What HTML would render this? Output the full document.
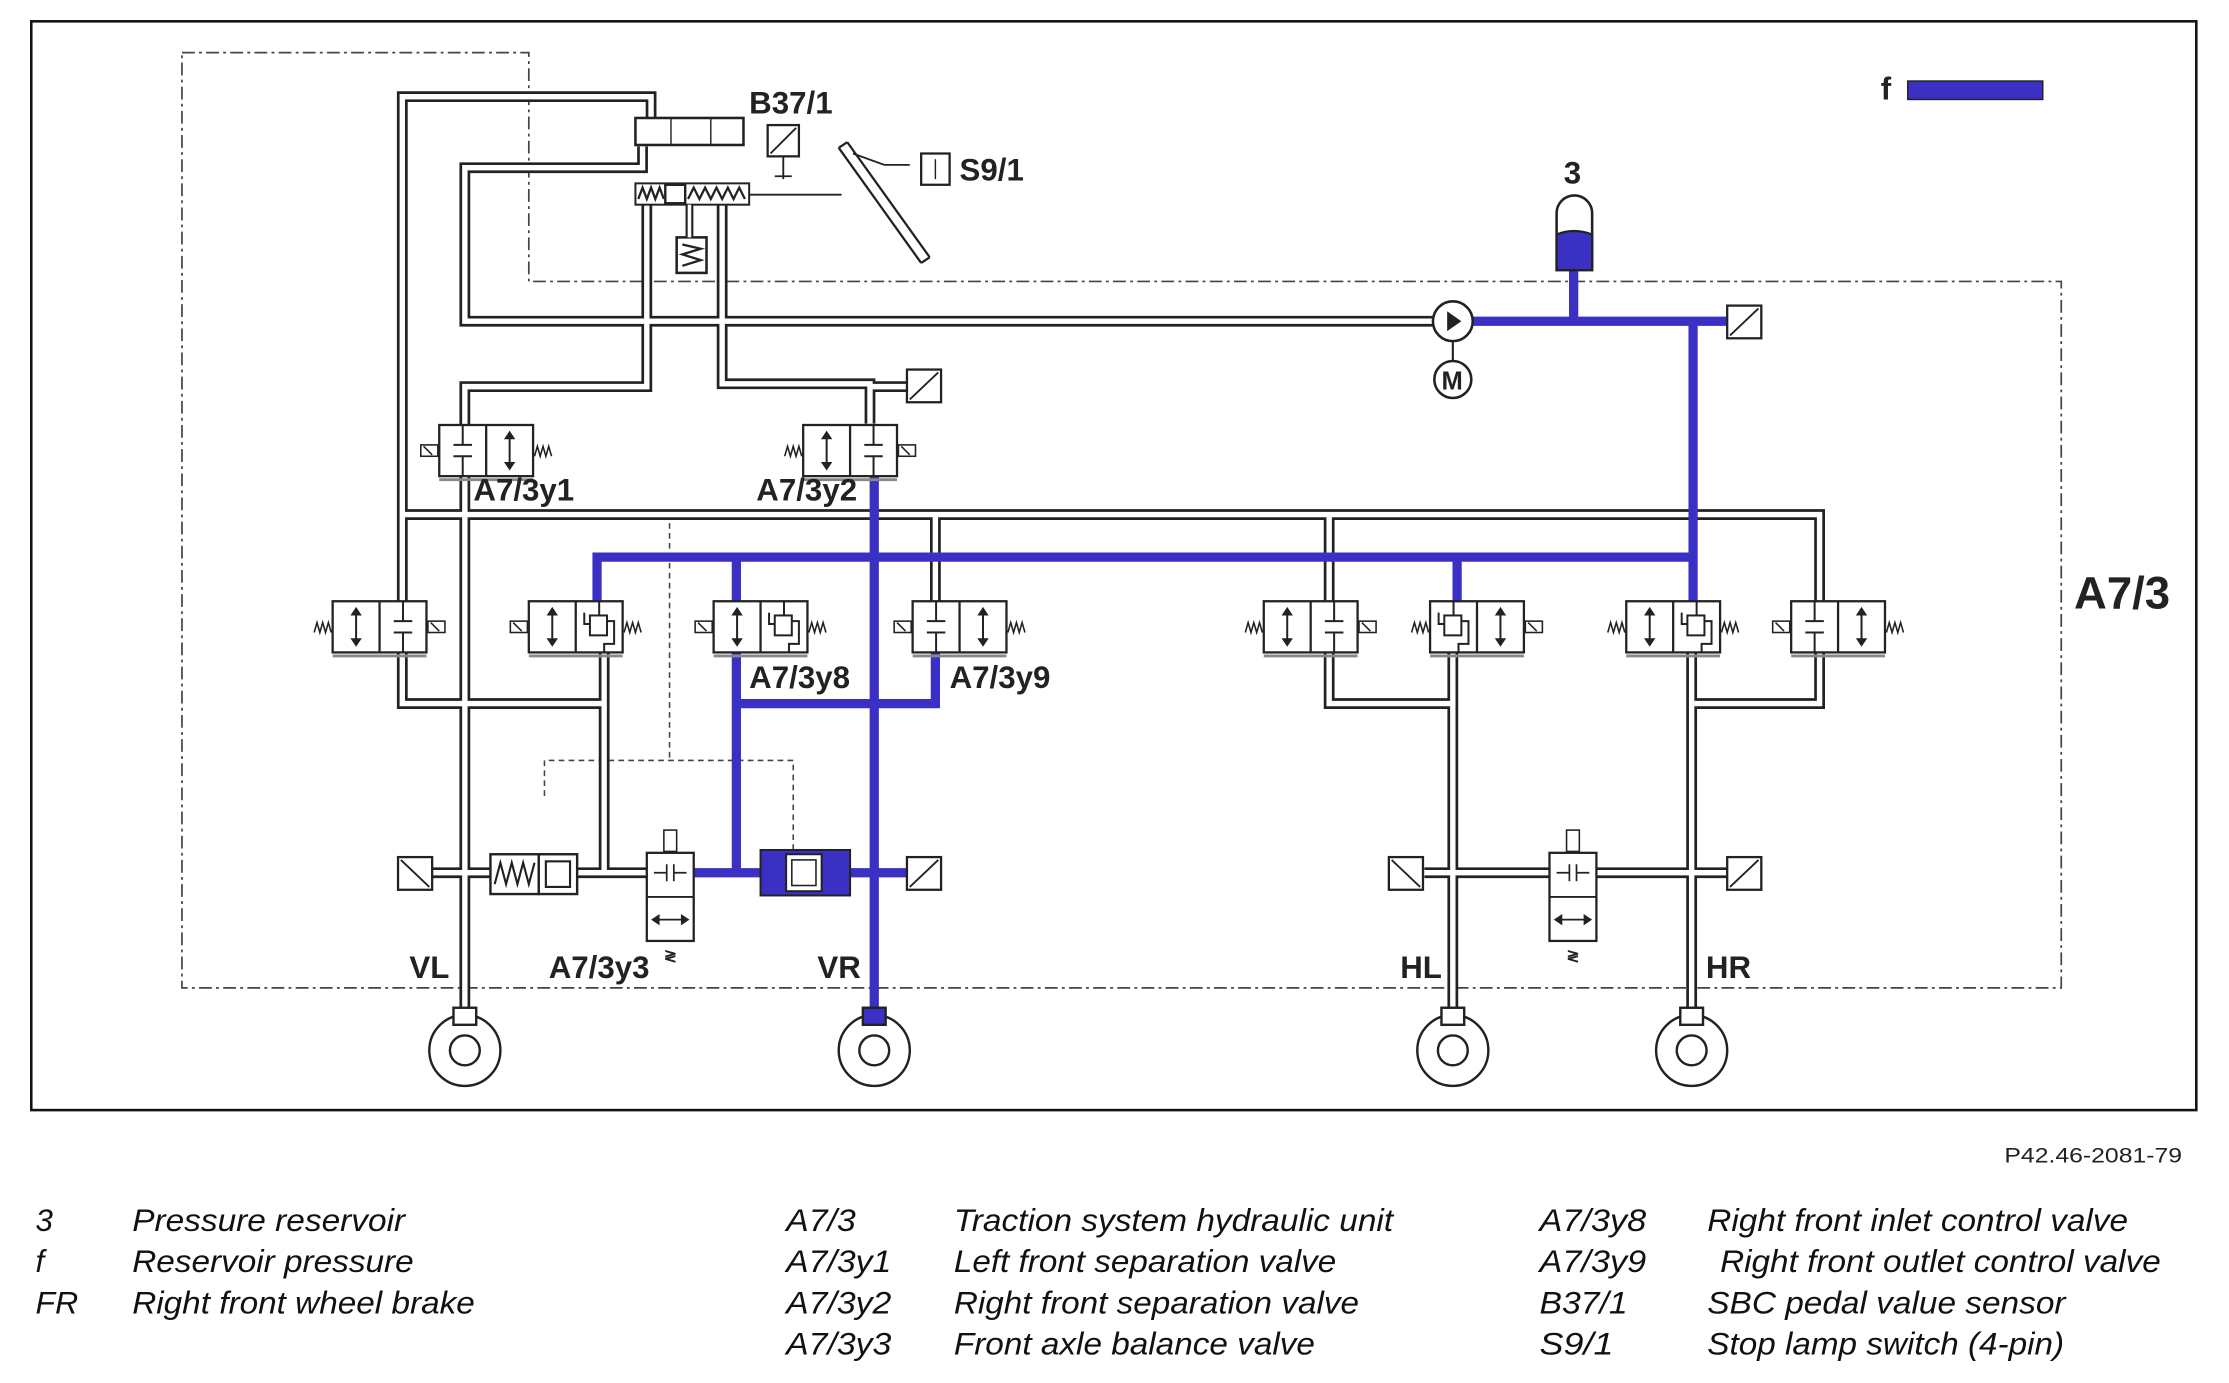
<!DOCTYPE html>
<html><head><meta charset="utf-8"><style>
html,body{margin:0;padding:0;background:#fff;}
svg{display:block;}
text{font-family:"Liberation Sans",Arial,sans-serif;}
.lb{font-weight:bold;font-size:22px;fill:#222;}
.lg{font-style:italic;font-size:22px;fill:#111;}
</style></head><body>
<svg width="2229" height="1383" viewBox="0 0 1568 973" preserveAspectRatio="none" xmlns="http://www.w3.org/2000/svg">
<defs>
<g id="arrow" fill="#222" stroke="#222" stroke-width="1.4">
<line x1="16.5" y1="7" x2="16.5" y2="29"/>
<polygon points="12.5,10 20.5,10 16.5,4" stroke="none"/>
<polygon points="12.5,26 20.5,26 16.5,32" stroke="none"/>
</g>
<g id="closed" fill="none" stroke="#222" stroke-width="1.4">
<line x1="16.5" y1="0" x2="16.5" y2="14"/><line x1="10" y1="14" x2="23" y2="14"/>
<line x1="10" y1="22" x2="23" y2="22"/><line x1="16.5" y1="22" x2="16.5" y2="36"/>
</g>
<g id="check" fill="none" stroke="#222" stroke-width="1.4">
<line x1="16.5" y1="0" x2="16.5" y2="10"/>
<rect x="10" y="10" width="12" height="14" fill="#fff"/>
<polyline points="6,8 6,16 10,16"/><polyline points="22,14 27,14 27,30 20,30 20,36"/>
</g>
<g id="spr" fill="none" stroke="#222" stroke-width="1.1"><polyline points="0,4 2,-3 4,4 6,-3 8,4 10,-3 12,4"/></g>
<g id="sol" fill="#fff" stroke="#222" stroke-width="1.1"><rect x="0" y="-4" width="12" height="8"/><line x1="2" y1="-3" x2="8" y2="3"/></g>
<g id="vbox" fill="#fff" stroke="#222" stroke-width="1.6">
<rect x="0" y="0" width="66" height="36"/><line x1="33" y1="0" x2="33" y2="36"/>
<line x1="0" y1="38.5" x2="66" y2="38.5" stroke="#888" stroke-width="2"/>
</g>
</defs>

<rect x="22" y="15" width="1523" height="766" fill="none" stroke="#111" stroke-width="1.8"/>
<path d="M128,37 H372 V198 H1450 V695 H128 Z" fill="none" stroke="#444" stroke-width="1.2" stroke-dasharray="9 3 2 3"/>
<path d="M471,368 V535 M383,560 V535 H558 V600" fill="none" stroke="#444" stroke-width="1.1" stroke-dasharray="4 3"/>

<!-- gray pipes -->
<g fill="none" stroke="#222" stroke-width="7.6" stroke-linejoin="miter">
<g id="pipes">
<path d="M458,88 V68 H283 V425"/>
<path d="M283,458 V495 H425"/>
<path d="M452,103 V118 H327 V226 H1008"/>
<path d="M455,144 V272 H327 V300 M327,331 V712"/>
<path d="M508,144 V270 H612 V298"/>
<path d="M612,272 H638"/>
<path d="M283,362 H1280 V425 M658,362 V425 M935,362 V425"/>
<path d="M425,458 V614 H455 M304,614 H345 M406,614 H425"/>
<path d="M935,458 V495 H1022 M1022,458 V712"/>
<path d="M1280,458 V495 H1190 M1190,458 V712"/>
<path d="M1002,614 H1090 M1122,614 H1215"/>
</g></g>
<use href="#pipes" stroke="#fff" stroke-width="3.8" fill="none"/>

<!-- blue pipes -->
<g fill="none" stroke="#3b30c4" stroke-width="6.5">
<path d="M1036,226 H1215 M1107,188 V226 M1191,226 V425"/>
<path d="M1191,392 H420 V425 M518,392 V425 M1025,392 V425"/>
<path d="M615,330 V712"/>
<path d="M518,458 V614 M488,614 H638"/>
<path d="M518,495 H658 V458"/>
</g>

<!-- master cylinder -->
<rect x="447" y="83" width="76" height="19" fill="#fff" stroke="#222" stroke-width="1.8"/>
<line x1="472" y1="83" x2="472" y2="102" stroke="#222"/><line x1="500" y1="83" x2="500" y2="102" stroke="#222"/>
<rect x="447" y="129" width="80" height="15" fill="#fff" stroke="#222" stroke-width="1.4"/>
<polyline points="449,140 452,132 455,140 458,132 461,140 464,132 467,140" fill="none" stroke="#222" stroke-width="1.6"/>
<rect x="468" y="130" width="14" height="13" fill="#fff" stroke="#222" stroke-width="1.7"/>
<polyline points="484,140 488,132 492,140 496,132 500,140 504,132 508,140 512,132 516,140 520,132 524,140" fill="none" stroke="#222" stroke-width="1.6"/>
<rect x="476" y="167" width="21" height="25" fill="#fff" stroke="#222" stroke-width="1.8"/>
<polyline points="480,172 493,175 480,179 493,183 480,187" fill="none" stroke="#222" stroke-width="1.6"/>
<path d="M485,144 V167" stroke="#222" stroke-width="5.5" fill="none"/><path d="M485,144 V167" stroke="#fff" stroke-width="2.5" fill="none"/>
<text x="527" y="80" class="lb">B37/1</text>
<rect x="540" y="88" width="22" height="22" fill="#fff" stroke="#222" stroke-width="1.6"/>
<line x1="542" y1="108" x2="560" y2="90" stroke="#222" stroke-width="1.3"/>
<path d="M551,110 V126 M545,124 H557" stroke="#222" stroke-width="1.3" fill="none"/>
<path d="M527,137 H592" stroke="#222" stroke-width="1.3"/>
<path d="M590,104 L648,185 M596,100 L654,181 M590,104 L596,100 M648,185 L654,181" stroke="#222" stroke-width="1.6" fill="none"/>
<path d="M600,108 L622,116 L640,116" stroke="#222" stroke-width="1.3" fill="none"/>
<rect x="648" y="108" width="20" height="22" fill="#fff" stroke="#222" stroke-width="1.6"/>
<line x1="658" y1="112" x2="658" y2="126" stroke="#222"/>
<text x="675" y="127" class="lb">S9/1</text>

<!-- pump / motor / reservoir -->
<circle cx="1022" cy="226" r="14" fill="#fff" stroke="#222" stroke-width="1.8"/>
<polygon points="1028,226 1018,219 1018,233" fill="#222"/>
<line x1="1022" y1="240" x2="1022" y2="254" stroke="#222" stroke-width="1.5"/>
<circle cx="1022" cy="267" r="13" fill="#fff" stroke="#222" stroke-width="1.8"/>
<text x="1014" y="274" font-size="18" font-weight="bold" fill="#222">M</text>
<text x="1100" y="129" class="lb">3</text>
<path d="M1095,190 V150 A12.5,12.5 0 0 1 1120,150 V190 Z" fill="#fff" stroke="#222" stroke-width="1.8"/>
<path d="M1095,165 Q1107,160 1120,165 V190 H1095 Z" fill="#3b30c4" stroke="#222" stroke-width="1.5"/>
<rect x="1215" y="215" width="24" height="23" fill="#fff" stroke="#222" stroke-width="1.6"/>
<line x1="1217" y1="236" x2="1237" y2="217" stroke="#222" stroke-width="1.3"/>
<rect x="638" y="260" width="24" height="23" fill="#fff" stroke="#222" stroke-width="1.6"/>
<line x1="640" y1="281" x2="660" y2="262" stroke="#222" stroke-width="1.3"/>

<!-- legend f -->
<text x="1323" y="70" class="lb">f</text>
<rect x="1342" y="57" width="95" height="13" fill="#3b30c4" stroke="#222" stroke-width="1"/>

<!-- A7/3y1 -->
<use href="#vbox" x="309" y="299"/><use href="#closed" x="309" y="299"/><use href="#arrow" x="342" y="299"/>
<use href="#sol" x="296" y="317"/><use href="#spr" x="376" y="317"/>
<text x="333" y="352" class="lb">A7/3y1</text>
<!-- A7/3y2 -->
<use href="#vbox" x="565" y="299"/><use href="#arrow" x="565" y="299"/><use href="#closed" x="598" y="299"/>
<use href="#spr" x="552" y="317"/><use href="#sol" x="632" y="317"/>
<text x="532" y="352" class="lb">A7/3y2</text>

<!-- valve row -->
<use href="#vbox" x="234" y="423"/><use href="#arrow" x="234" y="423"/><use href="#closed" x="267" y="423"/>
<use href="#spr" x="221" y="441"/><use href="#sol" x="301" y="441"/>
<use href="#vbox" x="372" y="423"/><use href="#arrow" x="372" y="423"/><use href="#check" x="405" y="423"/>
<use href="#sol" x="359" y="441"/><use href="#spr" x="439" y="441"/>
<use href="#vbox" x="502" y="423"/><use href="#arrow" x="502" y="423"/><use href="#check" x="535" y="423"/>
<use href="#sol" x="489" y="441"/><use href="#spr" x="569" y="441"/>
<use href="#vbox" x="642" y="423"/><use href="#closed" x="642" y="423"/><use href="#arrow" x="675" y="423"/>
<use href="#sol" x="629" y="441"/><use href="#spr" x="709" y="441"/>
<text x="527" y="484" class="lb">A7/3y8</text>
<text x="668" y="484" class="lb">A7/3y9</text>
<use href="#vbox" x="889" y="423"/><use href="#arrow" x="889" y="423"/><use href="#closed" x="922" y="423"/>
<use href="#spr" x="876" y="441"/><use href="#sol" x="956" y="441"/>
<use href="#vbox" x="1006" y="423"/><use href="#check" x="1006" y="423"/><use href="#arrow" x="1039" y="423"/>
<use href="#spr" x="993" y="441"/><use href="#sol" x="1073" y="441"/>
<use href="#vbox" x="1144" y="423"/><use href="#arrow" x="1144" y="423"/><use href="#check" x="1177" y="423"/>
<use href="#spr" x="1131" y="441"/><use href="#spr" x="1211" y="441"/>
<use href="#vbox" x="1260" y="423"/><use href="#closed" x="1260" y="423"/><use href="#arrow" x="1293" y="423"/>
<use href="#sol" x="1247" y="441"/><use href="#spr" x="1327" y="441"/>
<text x="1459" y="428" font-size="32" font-weight="bold" fill="#222">A7/3</text>

<!-- bottom row -->
<rect x="280" y="603" width="24" height="23" fill="#fff" stroke="#222" stroke-width="1.6"/>
<line x1="282" y1="605" x2="302" y2="624" stroke="#222" stroke-width="1.3"/>
<rect x="345" y="601" width="34" height="28" fill="#fff" stroke="#222" stroke-width="1.7"/>
<polyline points="348,622 352,607 356,622 360,607 364,622 368,607 372,622 376,607" fill="none" stroke="#222" stroke-width="1.5"/>
<rect x="379" y="601" width="27" height="28" fill="#fff" stroke="#222" stroke-width="1.7"/>
<rect x="384" y="606" width="17" height="18" fill="#fff" stroke="#222" stroke-width="1.5"/>
<rect x="455" y="600" width="33" height="62" fill="#fff" stroke="#222" stroke-width="1.6"/>
<line x1="455" y1="631" x2="488" y2="631" stroke="#222" stroke-width="1.3"/>
<path d="M460,614 H469 M469,608 V620 M474,608 V620 M474,614 H483" stroke="#222" stroke-width="1.2" fill="none"/>
<path d="M460,647 H483" stroke="#222" stroke-width="1.3"/><polygon points="458,647 464,643 464,651" fill="#222"/><polygon points="485,647 479,643 479,651" fill="#222"/>
<rect x="467" y="584" width="9" height="15" fill="#fff" stroke="#222" stroke-width="1.1"/>
<text x="467" y="676" font-size="11" font-weight="bold" fill="#222">≷</text>
<rect x="535" y="598" width="63" height="32" fill="#3b30c4" stroke="#222" stroke-width="1.4"/>
<rect x="553" y="601" width="25" height="26" fill="#fff" stroke="#222" stroke-width="1.4"/>
<rect x="557" y="605" width="17" height="18" fill="#fff" stroke="#222" stroke-width="1.1"/>
<rect x="638" y="603" width="24" height="23" fill="#fff" stroke="#222" stroke-width="1.6"/>
<line x1="640" y1="624" x2="660" y2="605" stroke="#222" stroke-width="1.3"/>
<rect x="977" y="603" width="24" height="23" fill="#fff" stroke="#222" stroke-width="1.6"/>
<line x1="979" y1="605" x2="999" y2="624" stroke="#222" stroke-width="1.3"/>
<rect x="1090" y="600" width="33" height="62" fill="#fff" stroke="#222" stroke-width="1.6"/>
<line x1="1090" y1="631" x2="1123" y2="631" stroke="#222" stroke-width="1.3"/>
<path d="M1095,614 H1104 M1104,608 V620 M1109,608 V620 M1109,614 H1118" stroke="#222" stroke-width="1.2" fill="none"/>
<path d="M1095,647 H1118" stroke="#222" stroke-width="1.3"/><polygon points="1093,647 1099,643 1099,651" fill="#222"/><polygon points="1120,647 1114,643 1114,651" fill="#222"/>
<rect x="1102" y="584" width="9" height="15" fill="#fff" stroke="#222" stroke-width="1.1"/>
<text x="1102" y="676" font-size="11" font-weight="bold" fill="#222">≷</text>
<rect x="1215" y="603" width="24" height="23" fill="#fff" stroke="#222" stroke-width="1.6"/>
<line x1="1217" y1="624" x2="1237" y2="605" stroke="#222" stroke-width="1.3"/>

<text x="288" y="688" class="lb">VL</text>
<text x="386" y="688" class="lb">A7/3y3</text>
<text x="575" y="688" class="lb">VR</text>
<text x="985" y="688" class="lb">HL</text>
<text x="1200" y="688" class="lb">HR</text>

<!-- wheels -->
<g fill="#fff" stroke="#222" stroke-width="1.7">
<circle cx="327" cy="739" r="25"/><circle cx="327" cy="739" r="10.5"/><rect x="319" y="709" width="16" height="12"/>
<circle cx="615" cy="739" r="25"/><circle cx="615" cy="739" r="10.5"/><rect x="607" y="709" width="16" height="12" fill="#3b30c4"/>
<circle cx="1022" cy="739" r="25"/><circle cx="1022" cy="739" r="10.5"/><rect x="1014" y="709" width="16" height="12"/>
<circle cx="1190" cy="739" r="25"/><circle cx="1190" cy="739" r="10.5"/><rect x="1182" y="709" width="16" height="12"/>
</g>

<text x="1410" y="818" font-size="15" fill="#222" textLength="125" lengthAdjust="spacingAndGlyphs">P42.46-2081-79</text>

<text x="25" y="866" class="lg">3</text><text x="93" y="866" class="lg" textLength="192" lengthAdjust="spacingAndGlyphs">Pressure reservoir</text>
<text x="25" y="895" class="lg">f</text><text x="93" y="895" class="lg" textLength="198" lengthAdjust="spacingAndGlyphs">Reservoir pressure</text>
<text x="25" y="924" class="lg" textLength="30" lengthAdjust="spacingAndGlyphs">FR</text><text x="93" y="924" class="lg" textLength="241" lengthAdjust="spacingAndGlyphs">Right front wheel brake</text>
<text x="553" y="866" class="lg" textLength="49" lengthAdjust="spacingAndGlyphs">A7/3</text><text x="671" y="866" class="lg" textLength="309" lengthAdjust="spacingAndGlyphs">Traction system hydraulic unit</text>
<text x="553" y="895" class="lg" textLength="74" lengthAdjust="spacingAndGlyphs">A7/3y1</text><text x="671" y="895" class="lg" textLength="269" lengthAdjust="spacingAndGlyphs">Left front separation valve</text>
<text x="553" y="924" class="lg" textLength="74" lengthAdjust="spacingAndGlyphs">A7/3y2</text><text x="671" y="924" class="lg" textLength="285" lengthAdjust="spacingAndGlyphs">Right front separation valve</text>
<text x="553" y="953" class="lg" textLength="74" lengthAdjust="spacingAndGlyphs">A7/3y3</text><text x="671" y="953" class="lg" textLength="254" lengthAdjust="spacingAndGlyphs">Front axle balance valve</text>
<text x="1083" y="866" class="lg" textLength="75" lengthAdjust="spacingAndGlyphs">A7/3y8</text><text x="1201" y="866" class="lg" textLength="296" lengthAdjust="spacingAndGlyphs">Right front inlet control valve</text>
<text x="1083" y="895" class="lg" textLength="75" lengthAdjust="spacingAndGlyphs">A7/3y9</text><text x="1210" y="895" class="lg" textLength="310" lengthAdjust="spacingAndGlyphs">Right front outlet control valve</text>
<text x="1083" y="924" class="lg" textLength="62" lengthAdjust="spacingAndGlyphs">B37/1</text><text x="1201" y="924" class="lg" textLength="252" lengthAdjust="spacingAndGlyphs">SBC pedal value sensor</text>
<text x="1083" y="953" class="lg" textLength="52" lengthAdjust="spacingAndGlyphs">S9/1</text><text x="1201" y="953" class="lg" textLength="251" lengthAdjust="spacingAndGlyphs">Stop lamp switch (4-pin)</text>
</svg>
</body></html>
